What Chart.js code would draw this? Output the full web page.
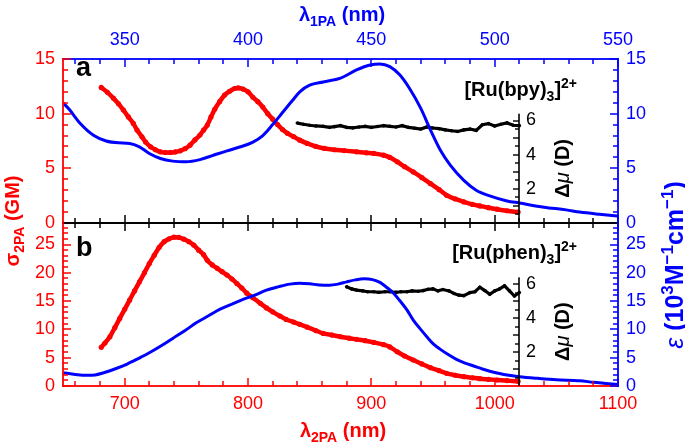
<!DOCTYPE html>
<html>
<head>
<meta charset="utf-8">
<script src="https://cdn.jsdelivr.net/npm/chart.js@4"></script>
<style>
body{margin:0;background:#fff}
#wrap{position:relative;width:685px;height:445px}
#wrap canvas{position:absolute;left:0;top:0}
</style>
</head>
<body>
<div id="wrap">
<canvas id="panelA" width="685" height="445"></canvas>
<canvas id="panelB" width="685" height="445"></canvas>
</div>
<script>
const RED = '#ff0000', BLUE = '#0000ff', BLACK = '#000000'
const FONT = '"Liberation Sans", Arial, Helvetica, sans-serif'

// panel a : [Ru(bpy)3]2+
const epsA_x = [650,655,664,675,685,695,704,712,720,729,739,750,761,772,783,794,804,812,820,828,836,842,850,861,875,888,899,907,915,923,931,940,948,956,964,975,985,996,1010,1020,1040,1058,1069,1085,1100]
const epsA_y = [11.0,10.4,9.1,8.0,7.5,7.33,7.28,6.97,6.36,5.9,5.66,5.6,5.8,6.2,6.6,6.97,7.4,8.0,9.0,10.1,11.2,12.0,12.6,12.9,13.25,14.0,14.45,14.55,14.3,13.55,12.3,10.5,8.5,6.66,5.3,3.9,3.0,2.48,2.02,1.83,1.45,1.2,1.0,0.8,0.64]

const sigA_x = [681,686,691,695,699,703,707,710,714,717,721,725,729,733,737,741,745,749,753,757,761,764,767,770,773,777,781,785,789,792,796,800,804,808,812,816,820,824,828,832,837,842,848,855,862,870,878,888,896,902,910,915,921,927,934,941,948,955,961,968,975,982,988,995,1002,1010,1019]
const sigA_y = [12.4,11.95,11.4,10.9,10.33,9.7,9.11,8.5,7.88,7.4,6.97,6.7,6.51,6.45,6.45,6.5,6.6,6.8,7.12,7.6,8.04,8.5,8.96,9.7,10.4,11.1,11.7,12.05,12.3,12.35,12.25,12.0,11.5,11.1,10.6,10.0,9.5,9.0,8.55,8.2,7.9,7.58,7.28,7.0,6.82,6.7,6.62,6.51,6.42,6.36,6.2,6.0,5.6,5.15,4.67,4.15,3.6,3.05,2.54,2.2,1.93,1.7,1.56,1.4,1.26,1.12,1.0]

const dmA_x = [840,845,850,855,861,866,870,875,880,885,890,895,900,905,910,915,920,925,930,935,940,945,950,955,960,965,970,975,980,985,990,995,1000,1005,1010,1015,1020]
const dmA_y = [5.85,5.78,5.72,5.68,5.66,5.6,5.64,5.7,5.6,5.57,5.62,5.66,5.6,5.65,5.7,5.66,5.62,5.7,5.6,5.55,5.5,5.62,5.56,5.52,5.45,5.4,5.36,5.45,5.5,5.42,5.75,5.82,5.68,5.78,5.86,5.72,5.7]

// panel b : [Ru(phen)3]2+
const epsB_x = [650,660,669,676,683,692,702,711,720,730,739,749,758,768,777,787,796,806,815,825,834,842,850,858,866,873,880,887,894,901,907,912,918,923,929,934,940,945,950,956,962,969,976,983,990,996,1003,1010,1020,1035,1050,1069,1080,1090,1100]
const epsB_y = [2.35,2.05,1.88,1.95,2.35,3.0,3.88,4.85,5.87,7.15,8.41,9.8,11.16,12.4,13.53,14.45,15.29,16.1,16.93,17.55,18.0,18.15,18.05,17.85,17.8,18.0,18.4,18.75,18.95,18.8,18.3,17.5,16.4,15.1,13.4,11.64,10.0,8.7,7.5,6.47,5.6,4.71,4.05,3.53,3.0,2.6,2.25,1.94,1.65,1.35,1.1,0.93,0.65,0.45,0.25]

const sigB_x = [681,684,688,692,696,700,704,708,712,716,720,724,728,732,736,740,744,748,752,756,760,764,767,771,775,779,783,787,791,795,799,804,810,815,820,826,831,837,842,848,855,861,868,875,882,888,895,902,910,915,921,927,934,941,948,955,961,968,975,982,988,995,1002,1010,1019]
const sigB_y = [6.83,7.6,8.7,10.3,11.94,13.55,15.17,16.8,18.4,20.0,21.64,23.1,24.5,25.5,26.0,26.3,26.25,25.95,25.5,24.9,24.0,23.2,22.2,21.4,20.8,20.2,19.6,18.9,18.11,17.3,16.4,15.6,14.6,13.8,13.1,12.35,11.76,11.3,10.9,10.4,9.8,9.29,9.0,8.7,8.45,8.24,8.0,7.7,7.3,6.9,6.05,5.3,4.59,3.9,3.23,2.7,2.24,1.9,1.64,1.45,1.29,1.17,1.06,0.95,0.83]

const dmB_x = [880,884,888,893,897,902,906,911,915,920,924,929,933,938,942,946,950,954,958,963,967,971,975,980,984,988,992,996,1000,1004,1008,1012,1016,1020]
const dmB_y = [5.84,5.72,5.65,5.6,5.55,5.55,5.52,5.55,5.55,5.52,5.55,5.55,5.6,5.58,5.62,5.7,5.72,5.6,5.68,5.6,5.45,5.35,5.32,5.5,5.55,5.82,5.62,5.4,5.6,5.72,5.9,5.6,5.3,5.5]

// labelled tick values of the inner dipole axis
const dm_ticks = [2, 4, 6]

const pts = (xs, ys) => xs.map((x, i) => ({x, y: ys[i]}))
const isMajor = (v, m) => Math.abs(v / m - Math.round(v / m)) < 1e-6

// label only every m-th unit
const every = m => v => (isMajor(v, m) ? String(v) : '')

function richText(ctx, parts, x, y, align) {
  const fonts = parts.map(p => `${p.s || 'bold'} ${p.z || 20}px ${FONT}`)
  let w = 0
  parts.forEach((p, i) => { ctx.font = fonts[i]; w += ctx.measureText(p.t).width })
  let cx = align === 'center' ? x - w / 2 : align === 'right' ? x - w : x
  ctx.textAlign = 'left'
  ctx.textBaseline = 'alphabetic'
  parts.forEach((p, i) => {
    ctx.font = fonts[i]
    ctx.fillText(p.t, cx, y + (p.d || 0))
    cx += ctx.measureText(p.t).width
  })
}

function rotText(ctx, parts, x, y) {
  ctx.save()
  ctx.translate(x, y)
  ctx.rotate(-Math.PI / 2)
  richText(ctx, parts, 0, 0, 'center')
  ctx.restore()
}

// tick marks as small filled bars
function ticksX(ctx, scale, from, to, step, major, y, dir) {
  for (let v = from; v <= to + 1e-9; v += step) {
    const px = Math.round(scale.getPixelForValue(v))
    const len = isMajor(v, major) ? 8 : 5
    ctx.fillRect(px - 0.75, dir > 0 ? y : y - len, 1.5, len)
  }
}

function ticksY(ctx, scale, from, to, step, major, x, dir) {
  for (let v = from; v <= to + 1e-9; v += step) {
    const py = Math.round(scale.getPixelForValue(v))
    const len = isMajor(v, major) ? 8 : 5
    ctx.fillRect(dir > 0 ? x : x - len, py - 0.75, len, 1.5)
  }
}

function edge(ctx, x1, y1, x2, y2) {
  ctx.fillRect(Math.min(x1, x2) - 0.9, Math.min(y1, y2) - 0.9, Math.abs(x2 - x1) + 1.8, Math.abs(y2 - y1) + 1.8)
}

function panelDeco(top) {
  return {
    id: 'deco',
    afterDraw(chart) {
      const {ctx, chartArea: a, scales: s} = chart
      const ymax = top ? 15 : 28
      ctx.save()
      // top edge
      ctx.fillStyle = top ? BLUE : BLACK
      if (top) ticksX(ctx, s.x2, 330, 550, 10, 50, a.top, 1)
      else ticksX(ctx, s.x, 660, 1100, 20, 100, a.top, 1)
      edge(ctx, a.left, a.top, a.right, a.top)
      // bottom edge
      ctx.fillStyle = top ? BLACK : RED
      ticksX(ctx, s.x, 660, 1100, 20, 100, a.bottom, -1)
      edge(ctx, a.left, a.bottom, a.right, a.bottom)
      // left and right edges
      ctx.fillStyle = RED
      ticksY(ctx, s.y, 0, ymax, 1, 5, a.left, 1)
      edge(ctx, a.left, a.top, a.left, a.bottom)
      ctx.fillStyle = BLUE
      ticksY(ctx, s.y2, 0, ymax, 1, 5, a.right, -1)
      edge(ctx, a.right, a.top, a.right, a.bottom)

      // inner dipole axis at 1020 nm
      const x0 = Math.round(s.x.getPixelForValue(1020))
      ctx.fillStyle = BLACK
      for (let v = 0.5; v <= 6.01; v += 0.5) {
        const py = Math.round(s.dm.getPixelForValue(v))
        const len = isMajor(v, 1) ? 6 : 4
        ctx.fillRect(x0 - len, py - 0.7, len, 1.4)
      }
      ctx.fillRect(x0 - 0.8, s.dm.getPixelForValue(6.4), 1.6, s.dm.getPixelForValue(0) - s.dm.getPixelForValue(6.4))
      ctx.font = `18px ${FONT}`
      ctx.textAlign = 'left'
      ctx.textBaseline = 'middle'
      dm_ticks.forEach(v => ctx.fillText(String(v), x0 + 7, s.dm.getPixelForValue(v)))
      rotText(ctx, [{t: 'Δ'}, {t: 'μ', s: 'italic'}, {t: ' (D)'}], 569, s.dm.getPixelForValue(3.2))

      // compound + panel letter + outer titles
      if (top) {
        richText(ctx, [{t: '[Ru(bpy)'}, {t: '3', z: 14, d: 5}, {t: ']'}, {t: '2+', z: 14, d: -8}], 577, 96, 'right')
        ctx.font = `bold 27px ${FONT}`
        ctx.fillText('a', 76, 76)
        ctx.fillStyle = BLUE
        richText(ctx, [{t: 'λ'}, {t: '1PA', z: 14, d: 5}, {t: ' (nm)'}], 342, 21, 'center')
      } else {
        richText(ctx, [{t: '[Ru(phen)'}, {t: '3', z: 14, d: 5}, {t: ']'}, {t: '2+', z: 14, d: -8}], 577, 259, 'right')
        ctx.font = `bold 27px ${FONT}`
        ctx.textBaseline = 'alphabetic'
        ctx.fillText('b', 76, 256)
        ctx.fillStyle = RED
        richText(ctx, [{t: 'λ'}, {t: '2PA', z: 14, d: 5}, {t: ' (nm)'}], 343, 437, 'center')
        rotText(ctx, [{t: 'σ'}, {t: '2PA', z: 14, d: 5}, {t: ' (GM)'}], 19, 221)
        ctx.fillStyle = BLUE
        rotText(ctx, [{t: 'ε', s: 'italic', z: 25}, {t: ' (10', z: 25}, {t: '3', z: 17, d: -10}, {t: 'M', z: 25},
          {t: '−1', z: 17, d: -10}, {t: 'cm', z: 25}, {t: '−1', z: 17, d: -10}, {t: ')', z: 25}], 683, 265)
      }
      ctx.restore()
    }
  }
}

const tickFont = {family: FONT, size: 18}
const noGrid = {display: false, drawTicks: false}

function yAxis(pos, max, color) {
  return {
    position: pos, min: 0, max: max,
    ticks: {stepSize: 5, includeBounds: false, autoSkip: false, color: color, font: tickFont, padding: 8, callback: every(5)},
    grid: noGrid, border: {display: false},
    afterFit: sc => { sc.width = pos === 'left' ? 63 : 67 }
  }
}

function datasets(ex, ey, sx, sy, dx, dy) {
  return [
    {data: pts(ex, ey), yAxisID: 'y2', borderColor: BLUE, borderWidth: 3, pointRadius: 0, cubicInterpolationMode: 'monotone'},
    {data: pts(sx, sy), yAxisID: 'y', borderColor: RED, borderWidth: 4.5, pointRadius: 2.6, pointBorderWidth: 0,
      pointBackgroundColor: RED, cubicInterpolationMode: 'monotone'},
    {data: pts(dx, dy), yAxisID: 'dm', borderColor: BLACK, borderWidth: 3.2, pointRadius: 1.8, pointBorderWidth: 0,
      pointBackgroundColor: BLACK}
  ]
}

const common = {
  responsive: false, animation: false,
  plugins: {legend: {display: false}, tooltip: {enabled: false}}
}

new Chart(document.getElementById('panelA'), {
  type: 'line',
  data: {datasets: datasets(epsA_x, epsA_y, sigA_x, sigA_y, dmA_x, dmA_y)},
  options: {
    ...common,
    layout: {padding: {bottom: 222}},
    scales: {
      x: {type: 'linear', display: false, min: 650, max: 1100},
      x2: {
        type: 'linear', position: 'top', min: 325, max: 550,
        ticks: {stepSize: 50, includeBounds: false, autoSkip: false, maxRotation: 0, color: BLUE, font: tickFont, padding: 8, callback: every(50)},
        grid: noGrid, border: {display: false},
        afterFit: sc => { sc.height = 59 }
      },
      y: yAxis('left', 15, RED),
      y2: yAxis('right', 15, BLUE),
      dm: {axis: 'y', display: false, min: 0, max: 9.6}
    }
  },
  plugins: [panelDeco(true)]
})

new Chart(document.getElementById('panelB'), {
  type: 'line',
  data: {datasets: datasets(epsB_x, epsB_y, sigB_x, sigB_y, dmB_x, dmB_y)},
  options: {
    ...common,
    layout: {padding: {top: 223}},
    scales: {
      x: {
        type: 'linear', position: 'bottom', min: 650, max: 1100,
        ticks: {stepSize: 100, includeBounds: false, autoSkip: false, maxRotation: 0, color: RED, font: tickFont, padding: 7, callback: every(100)},
        grid: noGrid, border: {display: false},
        afterFit: sc => { sc.height = 59 }
      },
      y: yAxis('left', 28.8, RED),
      y2: yAxis('right', 28.8, BLUE),
      dm: {axis: 'y', display: false, min: 0, max: 9.6}
    }
  },
  plugins: [panelDeco(false)]
})
</script>
</body>
</html>
